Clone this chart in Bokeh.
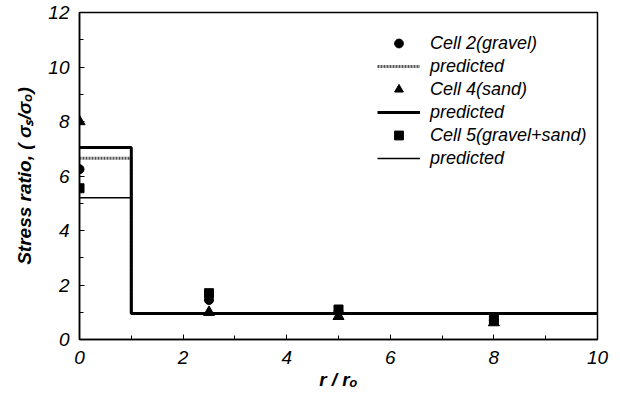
from bokeh.plotting import figure
from bokeh.models import Legend, LegendItem, FixedTicker, Range1d
from bokeh.embed import file_html
from bokeh.resources import INLINE

# data
r_meas = [0, 2.5, 5, 8]
cell2_gravel = [6.25, 1.45, 1.0, 0.7]
cell4_sand = [8.0, 1.0, 0.85, 0.62]
cell5_mix = [5.55, 1.7, 1.1, 0.75]

r_pred = [0, 1, 1, 10]
pred_gravel = [6.65, 6.65, 0.95, 0.95]
pred_sand = [7.05, 7.05, 0.95, 0.95]
pred_mix = [5.2, 5.2, 0.95, 0.95]

x_ticks = [0, 2, 4, 6, 8, 10]
y_ticks = [0, 2, 4, 6, 8, 10, 12]

FONT = "Liberation Sans"

p = figure(width=620, height=394, output_backend="svg", toolbar_location=None,
           x_range=Range1d(0, 10), y_range=Range1d(0, 12),
           min_border_left=79, min_border_right=23, min_border_top=12, min_border_bottom=55)
p.outline_line_color = "black"
p.outline_line_width = 1.5
p.xgrid.visible = False
p.ygrid.visible = False
p.background_fill_color = "white"
p.border_fill_color = "white"

l_g = p.line(r_pred, pred_gravel, line_color="#555555", line_width=3, line_dash="2 1")
l_s = p.line(r_pred, pred_sand, line_color="black", line_width=3)
l_m = p.line(r_pred, pred_mix, line_color="black", line_width=1.5)

s_g = p.scatter(r_meas, cell2_gravel, marker="circle", size=9, color="black")
s_s = p.scatter(r_meas, cell4_sand, marker="triangle", size=11, color="black")
s_m = p.scatter(r_meas, cell5_mix, marker="square", size=9, color="black")

for ax, ticks in ((p.xaxis, x_ticks), (p.yaxis, y_ticks)):
    ax.ticker = FixedTicker(ticks=ticks, minor_ticks=list(range(0, 13)))
    ax.major_tick_in = 5
    ax.major_tick_out = 0
    ax.minor_tick_in = 4
    ax.minor_tick_out = 0
    ax.axis_line_width = 1.5
    ax.major_label_text_font = FONT
    ax.major_label_text_font_style = "italic"
    ax.major_label_text_font_size = "19px"
    ax.major_label_text_color = "black"
    ax.axis_label_text_font = FONT
    ax.axis_label_text_font_style = "bold italic"
    ax.axis_label_text_font_size = "19px"
    ax.axis_label_text_color = "black"

p.xaxis.axis_label = "r / rₒ"
p.yaxis.axis_label = "Stress ratio, ( σₛ/σₒ)"
p.xaxis.major_label_standoff = 11
p.yaxis.major_label_standoff = 10
p.xaxis.axis_label_standoff = 2
p.yaxis.axis_label_standoff = 10

legend = Legend(items=[
    LegendItem(label="Cell 2(gravel)", renderers=[s_g]),
    LegendItem(label="predicted", renderers=[l_g]),
    LegendItem(label="Cell 4(sand)", renderers=[s_s]),
    LegendItem(label="predicted", renderers=[l_s]),
    LegendItem(label="Cell 5(gravel+sand)", renderers=[s_m]),
    LegendItem(label="predicted", renderers=[l_m]),
], location=(298, 170))
legend.border_line_color = None
legend.background_fill_alpha = 0
legend.label_text_font = FONT
legend.label_text_font_style = "italic"
legend.label_text_font_size = "18px"
legend.label_text_color = "black"
legend.label_height = 22
legend.glyph_height = 22
legend.glyph_width = 43
legend.label_standoff = 10
legend.spacing = 1
legend.padding = 0
legend.margin = 0
p.add_layout(legend, "center")

open("out.html", "w").write(file_html(p, INLINE))
